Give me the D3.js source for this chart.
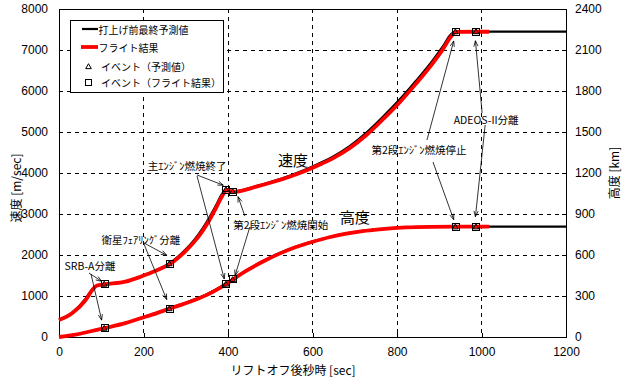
<!DOCTYPE html>
<html><head><meta charset="utf-8">
<script src="https://cdn.jsdelivr.net/npm/d3@7"></script>
<style>
body{margin:0;background:#fff;}
svg{display:block;}
.tick text{font-family:"Liberation Sans Narrow","Liberation Sans",Arial,sans-serif;font-size:12px;fill:#000;}
.jp{font-family:"Noto Sans CJK JP",sans-serif;fill:#000;}
</style></head>
<body><svg id="c" width="628" height="378"></svg>
<script>
// ---- data ----
const velTime   = [0, 31, 63, 79, 90, 108, 157, 191, 223, 240, 262, 280, 300, 320, 340, 354, 370, 386, 396, 404, 412, 420, 467, 506, 546, 585, 624, 648, 687, 727, 766, 806, 845, 884, 908, 928, 939, 988, 1018];
const velFlight = [415, 578, 902, 1146, 1255, 1285, 1349, 1460, 1590, 1665, 1775, 1915, 2100, 2320, 2590, 2815, 3115, 3435, 3580, 3560, 3545, 3548, 3666, 3780, 3910, 4060, 4237, 4358, 4600, 4920, 5300, 5720, 6180, 6670, 7010, 7330, 7440, 7445, 7445];
const velPredTime = [0, 31, 63, 79, 90, 108, 157, 191, 223, 240, 262, 280, 300, 320, 340, 354, 370, 386, 396, 404, 412, 420, 467, 506, 546, 585, 624, 648, 687, 727, 766, 806, 845, 884, 908, 928, 939, 988, 1018, 1200];
const velPred   = [415, 595, 935, 1172, 1262, 1290, 1352, 1466, 1600, 1680, 1795, 1945, 2140, 2370, 2650, 2880, 3180, 3490, 3600, 3572, 3552, 3555, 3680, 3800, 3935, 4090, 4275, 4400, 4650, 4980, 5365, 5790, 6250, 6740, 7080, 7390, 7448, 7450, 7450, 7450];

const altTime   = [0, 39, 78, 108, 157, 191, 230, 262, 310, 350, 381, 396, 412, 443, 483, 522, 561, 601, 640, 680, 719, 758, 821, 880, 939, 988, 1018];
const altFlight = [0, 17, 44, 65, 101, 135, 173, 208, 258, 308, 360, 388, 421, 483, 552, 610, 658, 697, 730, 756, 775, 788, 802, 806, 807, 807, 807];
const altPredTime = [0, 39, 78, 108, 157, 191, 230, 262, 310, 350, 381, 396, 412, 443, 483, 522, 561, 601, 640, 680, 719, 758, 821, 880, 939, 988, 1018, 1200];
const altPred   = [0, 17, 45, 66, 102, 137, 175, 211, 262, 313, 365, 392, 424, 487, 556, 614, 661, 700, 732, 758, 777, 790, 803, 806, 807, 807, 807, 807];

const eventNames      = ["SRB-A分離", "衛星ﾌｪｱﾘﾝｸﾞ分離", "主ｴﾝｼﾞﾝ燃焼終了", "第2段ｴﾝｼﾞﾝ燃焼開始", "第2段ｴﾝｼﾞﾝ燃焼停止", "ADEOS-II分離"];
const eventTimeFlight = [108, 262, 396, 412, 939, 988];
const eventVelFlight  = [1285, 1775, 3580, 3545, 7440, 7445];
const eventAltFlight  = [65, 208, 388, 421, 807, 807];
const eventTimePred   = [107, 261, 395, 411, 938, 987];
const eventVelPred    = [1292, 1790, 3600, 3552, 7448, 7450];
const eventAltPred    = [65, 208, 388, 421, 807, 807];

const xTicks = [0, 200, 400, 600, 800, 1000, 1200];
const velTicks = [0, 1000, 2000, 3000, 4000, 5000, 6000, 7000, 8000];
const altTicks = [0, 300, 600, 900, 1200, 1500, 1800, 2100, 2400];

const legendLabels = ["打上げ前最終予測値", "フライト結果", "イベント（予測値）", "イベント（フライト結果）"];
const xTitle = "リフトオフ後秒時 [sec]";
const velTitle = "速度 [m/sec]";
const altTitle = "高度 [km]";

// ---- layout ----
const svg = d3.select("#c");
const L = 59, R = 566, T = 9, B = 337;
const x = d3.scaleLinear().domain([0, 1200]).range([L, R]);
const yV = d3.scaleLinear().domain([0, 8000]).range([B, T]);
const yA = d3.scaleLinear().domain([0, 2400]).range([B, T]);

svg.append("rect").attr("width", 628).attr("height", 378).attr("fill", "#fff");

// grid
const g = svg.append("g").attr("stroke", "#000").attr("stroke-width", 1).attr("stroke-dasharray", "4,4").attr("shape-rendering", "crispEdges");
xTicks.slice(1, -1).forEach(t => g.append("line").attr("x1", x(t)).attr("x2", x(t)).attr("y1", T).attr("y2", B));
velTicks.slice(1, -1).forEach(v => g.append("line").attr("x1", L).attr("x2", R).attr("y1", yV(v)).attr("y2", yV(v)));

// axes
const ax = svg.append("g").attr("transform", `translate(0,${B})`)
  .call(d3.axisBottom(x).tickValues(xTicks).tickSize(-4).tickPadding(10).tickFormat(d3.format("d")));
const al = svg.append("g").attr("transform", `translate(${L},0)`)
  .call(d3.axisLeft(yV).tickValues(velTicks).tickSize(-4).tickPadding(11).tickFormat(d3.format("d")));
const ar = svg.append("g").attr("transform", `translate(${R},0)`)
  .call(d3.axisRight(yA).tickValues(altTicks).tickSize(-4).tickPadding(9).tickFormat(d3.format("d")));
[ax, al, ar].forEach(a => { a.select(".domain").remove(); a.selectAll("line").attr("stroke", "#000").attr("shape-rendering", "crispEdges"); });

// frame
svg.append("rect").attr("x", L).attr("y", T).attr("width", R - L).attr("height", B - T)
  .attr("fill", "none").attr("stroke", "#000").attr("stroke-width", 1).attr("shape-rendering", "crispEdges");

// axis titles
svg.append("text").attr("class", "jp").attr("x", 293).attr("y", 369).attr("text-anchor", "middle")
  .attr("dominant-baseline", "central").attr("font-size", 12).text(xTitle);
svg.append("text").attr("class", "jp").attr("transform", "translate(15,188) rotate(-90)").attr("text-anchor", "middle")
  .attr("dominant-baseline", "central").attr("font-size", 12).text(velTitle);
svg.append("text").attr("class", "jp").attr("transform", "translate(613,173) rotate(-90)").attr("text-anchor", "middle")
  .attr("dominant-baseline", "central").attr("font-size", 12).text(altTitle);

// lines
const lineV = (ts, vs) => d3.line().x((d, i) => x(ts[i])).y(d => yV(d)).curve(d3.curveMonotoneX)(vs);
const lineA = (ts, vs) => d3.line().x((d, i) => x(ts[i])).y(d => yA(d)).curve(d3.curveMonotoneX)(vs);
const lines = svg.append("g").attr("fill", "none").attr("stroke-linejoin", "round");
lines.append("path").attr("d", lineV(velPredTime, velPred)).attr("stroke", "#000").attr("stroke-width", 2.2);
lines.append("path").attr("d", lineA(altPredTime, altPred)).attr("stroke", "#000").attr("stroke-width", 2.2);
lines.append("path").attr("d", lineV(velTime, velFlight)).attr("stroke", "#ff0000").attr("stroke-width", 3.8);
lines.append("path").attr("d", lineA(altTime, altFlight)).attr("stroke", "#ff0000").attr("stroke-width", 3.8);

// event markers
const tri = d3.symbol().type(d3.symbolTriangle).size(14);
const mk = svg.append("g").attr("fill", "none").attr("stroke", "#000").attr("stroke-width", 1);
eventTimePred.forEach((t, i) => {
  mk.append("path").attr("d", tri()).attr("transform", `translate(${x(t)},${yV(eventVelPred[i]) + 0.5})`);
  mk.append("path").attr("d", tri()).attr("transform", `translate(${x(t)},${yA(eventAltPred[i]) + 0.5})`);
});
eventTimeFlight.forEach((t, i) => {
  mk.append("rect").attr("x", Math.round(x(t)) - 3.5).attr("y", Math.round(yV(eventVelFlight[i])) - 3.5).attr("width", 7).attr("height", 7);
  mk.append("rect").attr("x", Math.round(x(t)) - 3.5).attr("y", Math.round(yA(eventAltFlight[i])) - 3.5).attr("width", 7).attr("height", 7);
});

// annotations (label position in data units, arrow start offsets from label, tip offsets from marker)
const annos = [
  {i: 0, t: 73.4, v: 1732, arrows: [[-1, 7, "v", -3, -3], [1, 8, "a", -3, -8]]},
  {i: 1, t: 194, v: 2390, arrows: [[3, 4, "v", -3, -9], [3, 5, "a", -3, -9]]},
  {i: 2, t: 303, v: 4171, arrows: [[10, 9, "v", -3, -5], [10, 10, "a", -2, -5]]},
  {i: 3, t: 525, v: 2756, arrows: [[-36, -8, "v", 5, 5], [-31, 3, "a", 2, -4]]},
  {i: 4, t: 852, v: 4561, arrows: [[8, -10, "v", -2, 9], [14, 12, "a", -2, -7]]},
  {i: 5, t: 1011, v: 5293, arrows: [[-4, -7, "v", -1, 9], [-1, 5, "a", -1, -10]]}
];
const an = svg.append("g");
annos.forEach(a => {
  const cx = x(a.t), cy = yV(a.v);
  an.append("text").attr("class", "jp").attr("x", cx).attr("y", cy).attr("text-anchor", "middle")
    .attr("dominant-baseline", "central").attr("font-size", 10.5).text(eventNames[a.i]);
  a.arrows.forEach(([sx, sy, s, tx, ty]) => {
    const mx = x(eventTimeFlight[a.i]);
    const my = s === "v" ? yV(eventVelFlight[a.i]) : yA(eventAltFlight[a.i]);
    const x1 = cx + sx, y1 = cy + sy, x2 = mx + tx, y2 = my + ty;
    an.append("line").attr("x1", x1).attr("y1", y1).attr("x2", x2).attr("y2", y2).attr("stroke", "#000").attr("stroke-width", 0.8);
    const ang = Math.atan2(y2 - y1, x2 - x1), len = 6, spr = 0.35;
    const p1 = [x2 - len * Math.cos(ang - spr), y2 - len * Math.sin(ang - spr)];
    const p2 = [x2 - len * Math.cos(ang + spr), y2 - len * Math.sin(ang + spr)];
    an.append("path").attr("d", `M${p1}L${x2},${y2}L${p2}`).attr("fill", "none").attr("stroke", "#000").attr("stroke-width", 0.8);
  });
});

// curve labels
svg.append("text").attr("class", "jp").attr("x", x(554)).attr("y", yV(4341)).attr("text-anchor", "middle")
  .attr("dominant-baseline", "central").attr("font-size", 15).text("速度");
svg.append("text").attr("class", "jp").attr("x", x(700.6)).attr("y", yV(2951)).attr("text-anchor", "middle")
  .attr("dominant-baseline", "central").attr("font-size", 15).text("高度");

// legend
const lg = svg.append("g");
lg.append("rect").attr("x", 70.5).attr("y", 20.5).attr("width", 153).attr("height", 72)
  .attr("fill", "#fff").attr("stroke", "#000").attr("stroke-width", 1);
const rowY = [29, 47, 66.5, 82.5];
lg.append("line").attr("x1", 82).attr("x2", 98).attr("y1", rowY[0]).attr("y2", rowY[0]).attr("stroke", "#000").attr("stroke-width", 2.2);
lg.append("line").attr("x1", 81).attr("x2", 98).attr("y1", rowY[1]).attr("y2", rowY[1]).attr("stroke", "#ff0000").attr("stroke-width", 3.8);
lg.append("path").attr("d", tri()).attr("transform", `translate(88.5,${rowY[2] + 0.5})`).attr("fill", "none").attr("stroke", "#000");
lg.append("rect").attr("x", 85.5).attr("y", rowY[3] - 3).attr("width", 6).attr("height", 6).attr("fill", "none").attr("stroke", "#000");
legendLabels.forEach((s, i) => {
  lg.append("text").attr("class", "jp").attr("x", i < 2 ? 98.5 : 101).attr("y", rowY[i])
    .attr("dominant-baseline", "central").attr("font-size", 10).text(s);
});
</script></body></html>
